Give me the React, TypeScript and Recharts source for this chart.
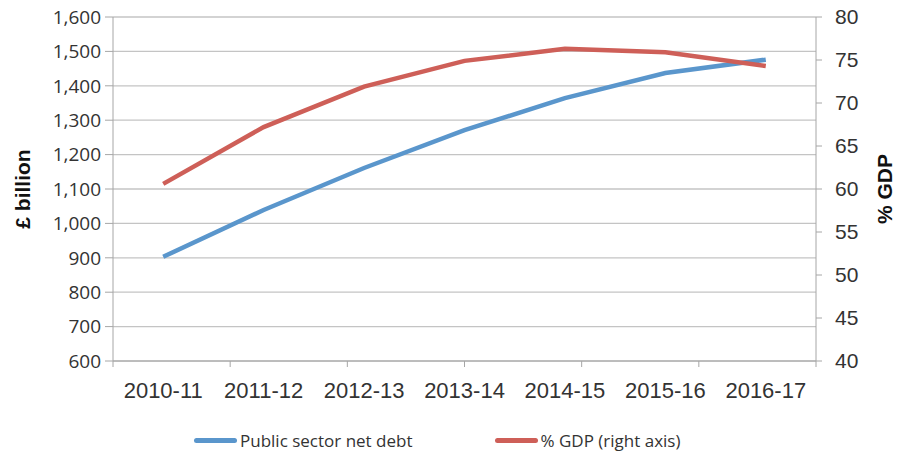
import { LineChart, Line, XAxis, YAxis, CartesianGrid, Legend } from "recharts";

const years = ["2010-11", "2011-12", "2012-13", "2013-14", "2014-15", "2015-16", "2016-17"];
const netDebt = [903, 1039, 1161, 1271, 1364, 1437, 1476];
const pctGdp = [60.6, 67.2, 71.9, 74.9, 76.3, 75.9, 74.3];
const leftTicks = [600, 700, 800, 900, 1000, 1100, 1200, 1300, 1400, 1500, 1600];
const rightTicks = [40, 45, 50, 55, 60, 65, 70, 75, 80];
const boundaryTicks = [0, 1, 2, 3, 4, 5, 6, 7];
const seriesNames = ["Public sector net debt", "% GDP (right axis)"];

const data = years.map((year, i) => ({ year, debt: netDebt[i], gdp: pctGdp[i] }));

const BLUE = "#5A96CC";
const RED = "#CE5F58";
const AXIS = "#A6A6A6";
const GRID = "#C4C4C4";
const TEXT = "#333333";

const fmt = (v: number) => v.toLocaleString("en-GB");

function AxisTitle({ viewBox, text, dx }: any) {
  if (!viewBox) return null;
  const x = viewBox.x + dx;
  const y = viewBox.y + viewBox.height / 2;
  return (
    <text
      x={x}
      y={y}
      transform={`rotate(-90, ${x}, ${y})`}
      textAnchor="middle"
      dominantBaseline="central"
      fontFamily="Liberation Sans"
      fontWeight="bold"
      fontSize={21}
      fill="#111"
    >
      {text}
    </text>
  );
}

function LegendContent({ payload }: any) {
  const items = [...(payload || [])].sort(
    (a: any, b: any) => seriesNames.indexOf(a.value) - seriesNames.indexOf(b.value)
  );
  return (
    <div style={{ display: "flex", paddingLeft: 194, gap: 82, fontFamily: "Open Sans", fontSize: 17, color: TEXT }}>
      {items.map((p: any) => (
        <div key={p.value} style={{ display: "flex", alignItems: "center" }}>
          <span style={{ width: 43, height: 5, borderRadius: 3, background: p.color, marginRight: 3 }} />
          <span>{p.value}</span>
        </div>
      ))}
    </div>
  );
}

export default function App() {
  return (
    <div style={{ position: "absolute", left: 0, top: 0, width: 907, height: 458, background: "#fff" }}>
      <LineChart width={907} height={458} data={data} margin={{ top: 17, right: 0, bottom: 0, left: 0 }}>
        <CartesianGrid yAxisId="left" vertical={false} stroke={GRID} strokeWidth={1.3} />
        <XAxis
          xAxisId="bounds"
          type="number"
          domain={[0, 7]}
          allowDataOverflow
          ticks={boundaryTicks}
          height={1}
          stroke={AXIS}
          tickSize={6}
          tick={() => <g />}
        />
        <XAxis
          xAxisId="cat"
          dataKey="year"
          scale="band"
          height={96}
          axisLine={false}
          tickLine={false}
          tickSize={0}
          tickMargin={20}
          tick={{ fontFamily: "Liberation Sans", fontSize: 22, fill: TEXT }}
        />
        <YAxis
          yAxisId="left"
          width={113}
          domain={[600, 1600]}
          ticks={leftTicks}
          tickFormatter={fmt}
          stroke={AXIS}
          tickSize={8}
          tickMargin={4}
          tick={{ fontFamily: "Open Sans", fontSize: 19, fill: TEXT }}
          label={<AxisTitle text="£ billion" dx={22} />}
        />
        <YAxis
          yAxisId="right"
          orientation="right"
          width={91}
          domain={[40, 80]}
          ticks={rightTicks}
          stroke={AXIS}
          tickSize={6}
          tickMargin={13}
          tick={{ fontFamily: "Liberation Sans", fontSize: 21, fill: TEXT }}
          label={<AxisTitle text="% GDP" dx={68} />}
        />
        <Legend
          verticalAlign="middle"
          layout="horizontal"
          wrapperStyle={{ position: "absolute", left: 0, top: 429, width: 907 }}
          content={<LegendContent />}
        />
        <Line
          xAxisId="cat"
          yAxisId="left"
          dataKey="debt"
          name={seriesNames[0]}
          stroke={BLUE}
          strokeWidth={4.5}
          dot={false}
          activeDot={false}
          isAnimationActive={false}
        />
        <Line
          xAxisId="cat"
          yAxisId="right"
          dataKey="gdp"
          name={seriesNames[1]}
          stroke={RED}
          strokeWidth={4.5}
          dot={false}
          activeDot={false}
          isAnimationActive={false}
        />
      </LineChart>
    </div>
  );
}
